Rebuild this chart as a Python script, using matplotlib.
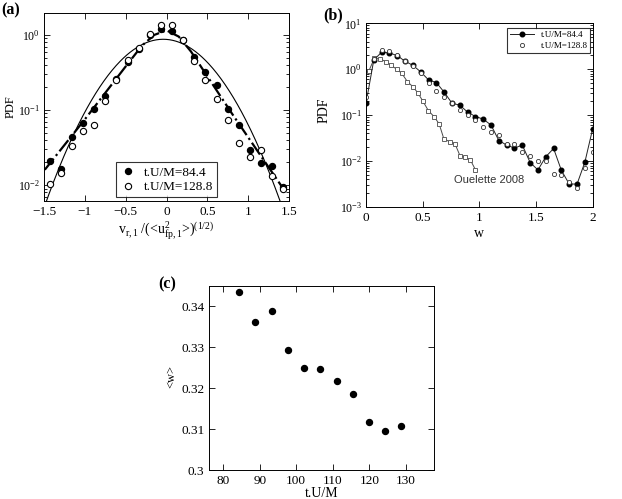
import numpy as np
import matplotlib
matplotlib.use('Agg')
import matplotlib.pyplot as plt
from matplotlib.ticker import LogLocator, NullFormatter

plt.rcParams['font.family'] = ['Liberation Serif', 'DejaVu Serif']
plt.rcParams['mathtext.fontset'] = 'custom'
plt.rcParams['mathtext.rm'] = 'Liberation Serif'
plt.rcParams['mathtext.it'] = 'Liberation Serif:italic'
plt.rcParams['mathtext.default'] = 'regular'
plt.rcParams['axes.unicode_minus'] = True

# (a) PDF of relative velocity, bin centres
a_x = [-1.432, -1.295, -1.159, -1.023, -0.886, -0.75, -0.614, -0.477, -0.341, -0.205, -0.068,
       0.068, 0.205, 0.341, 0.477, 0.614, 0.75, 0.886, 1.023, 1.159, 1.295, 1.432]
a_early = [0.0211, 0.0163, 0.044, 0.068, 0.102, 0.154, 0.259, 0.436, 0.657, 1.01, 1.21,
           1.14, 0.86, 0.51, 0.32, 0.213, 0.103, 0.064, 0.029, 0.0195, 0.0179, 0.0093]
a_late = [0.0103, 0.0143, 0.0334, 0.053, 0.0625, 0.13, 0.25, 0.46, 0.66, 1.03, 1.36,
          1.35, 0.85, 0.45, 0.25, 0.14, 0.0736, 0.036, 0.0234, 0.0293, 0.0132, 0.009]
fit_x = [-1.49, -1.0, -0.5, -0.3, -0.15, 0.0, 0.15, 0.3, 0.8, 1.45]
fit_y = [0.016, 0.075, 0.38, 0.72, 1.0, 1.15, 0.95, 0.6, 0.09, 0.0083]
gauss_peak, gauss_mean, gauss_sigma = 0.875, -0.04, 0.454

# (b) PDF of w
b_x = [0.0, 0.069, 0.138, 0.207, 0.276, 0.345, 0.414, 0.483, 0.552, 0.621, 0.69, 0.759,
       0.828, 0.897, 0.966, 1.034, 1.103, 1.172, 1.241, 1.31, 1.379, 1.448, 1.517, 1.586,
       1.655, 1.724, 1.793, 1.862, 1.931, 2.0]
b_early = [0.18, 1.6, 2.35, 2.27, 1.98, 1.49, 1.22, 0.875, 0.586, 0.513, 0.316, 0.182,
           0.165, 0.116, 0.0935, 0.082, 0.061, 0.028, 0.0223, 0.0192, 0.0223, 0.0093,
           0.0064, 0.0124, 0.0188, 0.00625, 0.00316, 0.00316, 0.0095, 0.051]
b_late = [0.25, 1.65, 2.65, 2.5, 2.05, 1.5, 1.2, 0.82, 0.5, 0.33, 0.25, 0.18, 0.13, 0.1,
          0.08, 0.055, 0.042, 0.037, 0.024, 0.023, 0.0154, 0.0126, 0.01, 0.01, 0.0053,
          0.005, 0.0035, 0.0026, 0.007, 0.0154]
ou_x = [0.026, 0.075, 0.124, 0.174, 0.218, 0.271, 0.315, 0.365, 0.412, 0.456, 0.503, 0.55,
        0.6, 0.645, 0.686, 0.741, 0.785, 0.83, 0.874, 0.92, 0.965]
ou_y = [0.93, 1.75, 1.7, 1.46, 1.24, 1.0, 0.82, 0.54, 0.42, 0.31, 0.2, 0.126, 0.093, 0.065,
        0.031, 0.026, 0.0238, 0.013, 0.0122, 0.0107, 0.0065]

# (c) mean w against time
c_t = [84.4, 88.84, 93.28, 97.72, 102.16, 106.6, 111.04, 115.48, 119.92, 124.36, 128.8]
c_w = [0.3435, 0.3361, 0.339, 0.3293, 0.3249, 0.3246, 0.3218, 0.3187, 0.3117, 0.3095, 0.3107]


def matlab_ticks(ax):
    ax.tick_params(which='both', direction='in', top=True, right=True, labelsize=9.5,
                   width=0.6)
    ax.tick_params(which='major', length=4)
    ax.tick_params(which='minor', length=2)
    for s in ax.spines.values():
        s.set_linewidth(0.7)


fig = plt.figure(figsize=(6.22, 4.99), dpi=100)

# panel (a)
ax1 = fig.add_axes([0.0707, 0.597, 0.394, 0.377])
gx = np.linspace(-1.5, 1.5, 300)
ax1.semilogy(gx, gauss_peak * np.exp(-(gx - gauss_mean) ** 2 / (2 * gauss_sigma ** 2)),
             color='black', lw=0.8)
ax1.semilogy(fit_x, fit_y, color='black', ls='-.', lw=1.6)
ax1.semilogy(a_x, a_early, 'o', color='black', ms=4.3, label='t.U/M=84.4')
ax1.semilogy(a_x, a_late, 'o', mfc='white', mec='black', mew=0.8, ms=4.5, label='t.U/M=128.8')
ax1.set_xlim(-1.5, 1.5)
ax1.set_ylim(0.00612, 1.96)
ax1.set_xticks([-1.5, -1, -0.5, 0, 0.5, 1, 1.5])
ax1.set_xticklabels(['\u22121.5', '\u22121', '\u22120.5', '0', '0.5', '1', '1.5'])
ax1.yaxis.set_minor_locator(LogLocator(base=10, subs=np.arange(2, 10)))
ax1.yaxis.set_minor_formatter(NullFormatter())
ax1.set_ylabel('PDF', fontsize=9)
ax1.yaxis.set_label_coords(-0.11, 0.5)
ax1.set_xlabel(r'v$_{r,1}$ /(<u$^{2}_{fp,1}$>)$^{(1/2)}$', fontsize=10, labelpad=1)
matlab_ticks(ax1)
ax1.tick_params(axis='y', labelsize=8.5, pad=3)
leg1 = ax1.legend(loc='lower center', bbox_to_anchor=(0.5, 0.02), fontsize=9.5,
                  frameon=True, fancybox=False, edgecolor='black', handletextpad=0.6,
                  borderpad=0.3, labelspacing=0.2, handlelength=1.2, borderaxespad=0)
leg1.get_frame().set_linewidth(0.8)
fig.text(0.002, 0.995, '(a)', fontsize=11.5, fontweight='bold', va='top', ha='left')

# panel (b)
ax2 = fig.add_axes([0.5884, 0.5852, 0.3645, 0.368])
ax2.semilogy(ou_x, ou_y, 's-', color='#4a4a4a', mfc='white', mec='#4a4a4a', mew=0.6,
             ms=2.6, lw=0.7)
ax2.semilogy(b_x, b_early, 'o-', color='#222222', mfc='black', mec='black', ms=3.3, lw=0.7,
             label='t.U/M=84.4')
ax2.semilogy(b_x, b_late, 'o', mfc='white', mec='#333333', mew=0.6, ms=3.0,
             label='t.U/M=128.8')
ax2.text(0.777, 0.0039, 'Ouelette 2008', family=['Liberation Sans', 'DejaVu Sans'],
         fontsize=8, color='#333333', va='center', ha='left')
ax2.set_xlim(0, 2)
ax2.set_ylim(1e-3, 1e1)
ax2.set_xticks([0, 0.5, 1, 1.5, 2])
ax2.set_xticklabels(['0', '0.5', '1', '1.5', '2'])
ax2.yaxis.set_minor_locator(LogLocator(base=10, subs=np.arange(2, 10)))
ax2.yaxis.set_minor_formatter(NullFormatter())
ax2.set_ylabel('PDF', fontsize=10)
ax2.yaxis.set_label_coords(-0.155, 0.527)
ax2.set_xlabel('w', fontsize=10, labelpad=2)
matlab_ticks(ax2)
ax2.tick_params(axis='y', labelsize=8.5, pad=3)
leg2 = ax2.legend(loc='upper right', bbox_to_anchor=(0.99, 0.975), fontsize=6.5,
                  frameon=True, fancybox=False, edgecolor='black', handletextpad=0.8,
                  borderpad=0.3, labelspacing=0.3, handlelength=2.6, borderaxespad=0)
leg2.get_frame().set_linewidth(0.8)
fig.text(0.519, 0.985, '(b)', fontsize=11.5, fontweight='bold', va='top', ha='left')

# panel (c)
ax3 = fig.add_axes([0.3365, 0.0581, 0.3612, 0.3687])
ax3.plot(c_t, c_w, 'o', color='black', ms=4.3)
ax3.set_xlim(76.2, 137.7)
ax3.set_ylim(0.3, 0.345)
ax3.set_xticks([80, 90, 100, 110, 120, 130])
ax3.set_yticks([0.3, 0.31, 0.32, 0.33, 0.34])
ax3.set_yticklabels(['0.3', '0.31', '0.32', '0.33', '0.34'])
ax3.set_xlabel('t.U/M', fontsize=10, labelpad=0)
ax3.set_ylabel('<w>', fontsize=9)
ax3.yaxis.set_label_coords(-0.14, 0.507)
matlab_ticks(ax3)
fig.text(0.254, 0.447, '(c)', fontsize=11.5, fontweight='bold', va='top', ha='left')

fig.savefig('out.png', dpi=100)
